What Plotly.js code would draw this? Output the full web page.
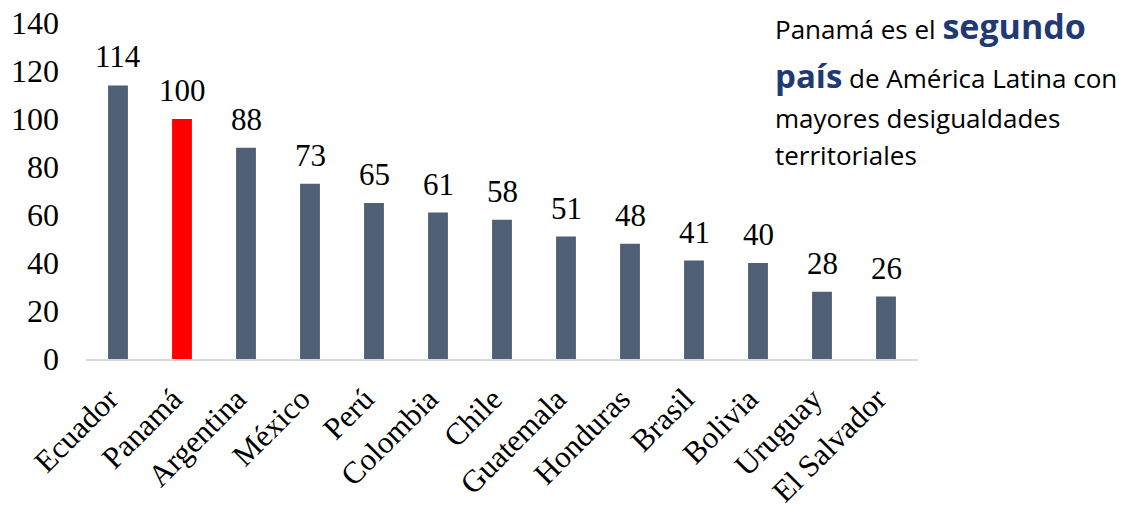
<!DOCTYPE html>
<html>
<head>
<meta charset="utf-8">
<script src="https://cdn.plot.ly/plotly-3.0.1.min.js"></script>
<style>html,body{margin:0;padding:0;background:#fff;}#chart{width:1136px;height:514px;}</style>
</head>
<body>
<div id="chart"></div>
<script>
const countries = ["Ecuador","Panamá","Argentina","México","Perú","Colombia","Chile","Guatemala","Honduras","Brasil","Bolivia","Uruguay","El Salvador"];
const values = [114,100,88,73,65,61,58,51,48,41,40,28,26];
const highlight = "Panamá";
const yTicks = [0,20,40,60,80,100,120,140];

const baseColor = "#4f5f76";
const hiColor = "#ff0000";
const colors = countries.map(c => c === highlight ? hiColor : baseColor);

const serif = "Liberation Serif, Times New Roman, serif";
const sans = "Open Sans, Noto Sans, sans-serif";
const navy = "#1f3a75";

const trace = {
  type: "bar",
  x: countries,
  y: values,
  marker: {color: colors},
  hoverinfo: "x+y"
};

const valueLabels = countries.map((c, i) => ({
  xref: "x", yref: "y", x: c, y: values[i],
  text: String(values[i]), showarrow: false,
  xanchor: "center", yanchor: "bottom", yshift: 9,
  font: {family: serif, size: 31, color: "#000"}
}));

const textNotes = [
  {xref: "paper", yref: "paper", x: 0.826, y: 0.99, xanchor: "left", yanchor: "middle", showarrow: false,
   text: "Panamá es el <b><span style='font-size:34px;color:" + navy + "'>segundo</span></b>",
   font: {family: sans, size: 26, color: "#000"}},
  {xref: "paper", yref: "paper", x: 0.826, y: 0.845, xanchor: "left", yanchor: "middle", showarrow: false,
   text: "<b><span style='font-size:33px;color:" + navy + "'>país</span></b> de América Latina con",
   font: {family: sans, size: 26, color: "#000"}},
  {xref: "paper", yref: "paper", x: 0.826, y: 0.716, xanchor: "left", yanchor: "middle", showarrow: false,
   text: "mayores desigualdades",
   font: {family: sans, size: 26, color: "#000"}},
  {xref: "paper", yref: "paper", x: 0.826, y: 0.607, xanchor: "left", yanchor: "middle", showarrow: false,
   text: "territoriales",
   font: {family: sans, size: 26, color: "#000"}}
];

const layout = {
  width: 1136, height: 514,
  margin: {l: 86, r: 218, t: 23, b: 155},
  paper_bgcolor: "#fff", plot_bgcolor: "#fff",
  showlegend: false,
  bargap: 0.69,
  xaxis: {
    tickangle: -45,
    tickfont: {family: serif, size: 31, color: "#000"},
    showline: true, linecolor: "#d9d9d9", linewidth: 1.5,
    ticks: "", showgrid: false, zeroline: false,
    ticklabelstandoff: 8,
    ticklabelshift: -9
  },
  yaxis: {
    range: [0, 140],
    tickvals: yTicks,
    ticktext: yTicks.map(String),
    tickfont: {family: serif, size: 32, color: "#000"},
    showgrid: false, zeroline: false, showline: false, ticks: "",
    ticklabelstandoff: 26
  },
  annotations: valueLabels.concat(textNotes)
};

Plotly.newPlot("chart", [trace], layout, {displayModeBar: false, staticPlot: true});
</script>
</body>
</html>
